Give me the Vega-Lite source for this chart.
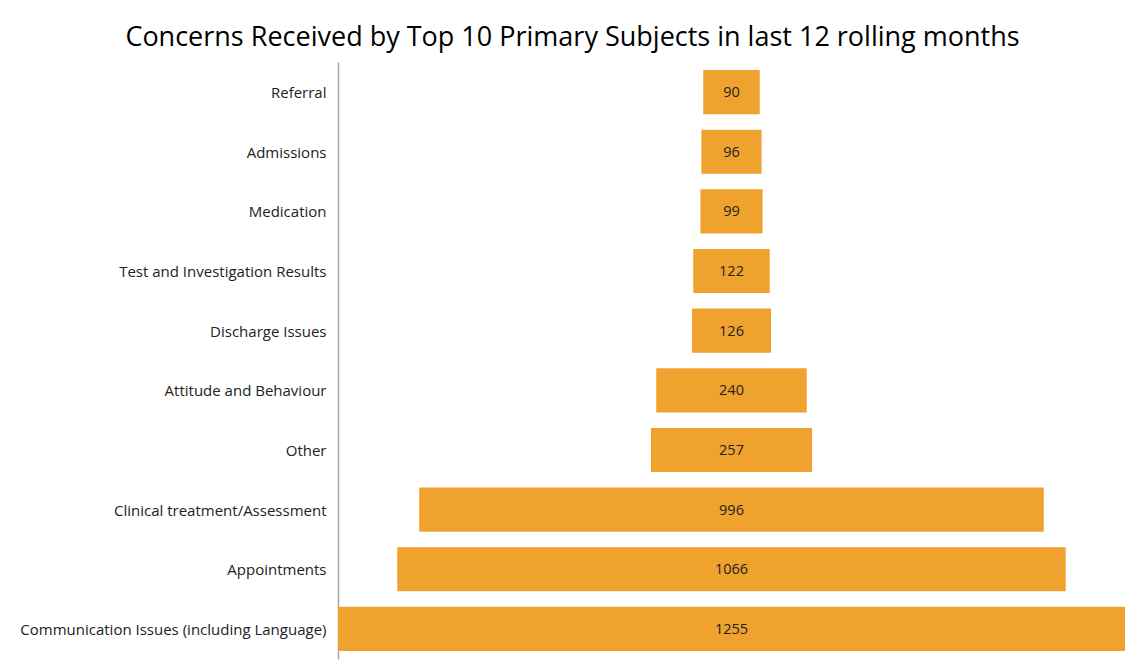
{
  "$schema": "https://vega.github.io/schema/vega-lite/v6.json",
  "width": 787,
  "height": 597,
  "autosize": "none",
  "padding": {"left": 338, "top": 62, "right": 0, "bottom": 4},
  "background": "white",
  "title": {
    "text": "Concerns Received by Top 10 Primary Subjects in last 12 rolling months",
    "font": "Open Sans",
    "fontSize": 27,
    "fontWeight": "normal",
    "color": "#000000",
    "anchor": "middle",
    "dx": -159,
    "offset": 10
  },
  "config": {"view": {"stroke": null}},
  "data": {
    "values": [
      {"subject": "Referral", "value": 90},
      {"subject": "Admissions", "value": 96},
      {"subject": "Medication", "value": 99},
      {"subject": "Test and Investigation Results", "value": 122},
      {"subject": "Discharge Issues", "value": 126},
      {"subject": "Attitude and Behaviour", "value": 240},
      {"subject": "Other", "value": 257},
      {"subject": "Clinical treatment/Assessment", "value": 996},
      {"subject": "Appointments", "value": 1066},
      {"subject": "Communication Issues (including Language)", "value": 1255}
    ]
  },
  "encoding": {
    "y": {
      "field": "subject",
      "type": "nominal",
      "sort": null,
      "scale": {"paddingInner": 0.26, "paddingOuter": 0.134},
      "axis": {
        "title": null,
        "ticks": false,
        "labelFont": "Open Sans",
        "labelFontSize": 15,
        "labelColor": "#222222",
        "labelPadding": 12,
        "labelLimit": 340,
        "labelOffset": 1,
        "domainColor": "#A6A6A6",
        "domainWidth": 1.5
      }
    }
  },
  "layer": [
    {
      "mark": {"type": "bar", "color": "#F0A22E"},
      "encoding": {
        "x": {
          "field": "value",
          "type": "quantitative",
          "stack": "center",
          "scale": {"domain": [0, 1255], "nice": false, "zero": true},
          "axis": null
        }
      }
    },
    {
      "mark": {"type": "text", "font": "Open Sans", "fontSize": 14.5, "color": "#222222", "dy": 1},
      "encoding": {
        "x": {"datum": 627.5, "type": "quantitative"},
        "text": {"field": "value", "type": "quantitative"}
      }
    }
  ]
}
